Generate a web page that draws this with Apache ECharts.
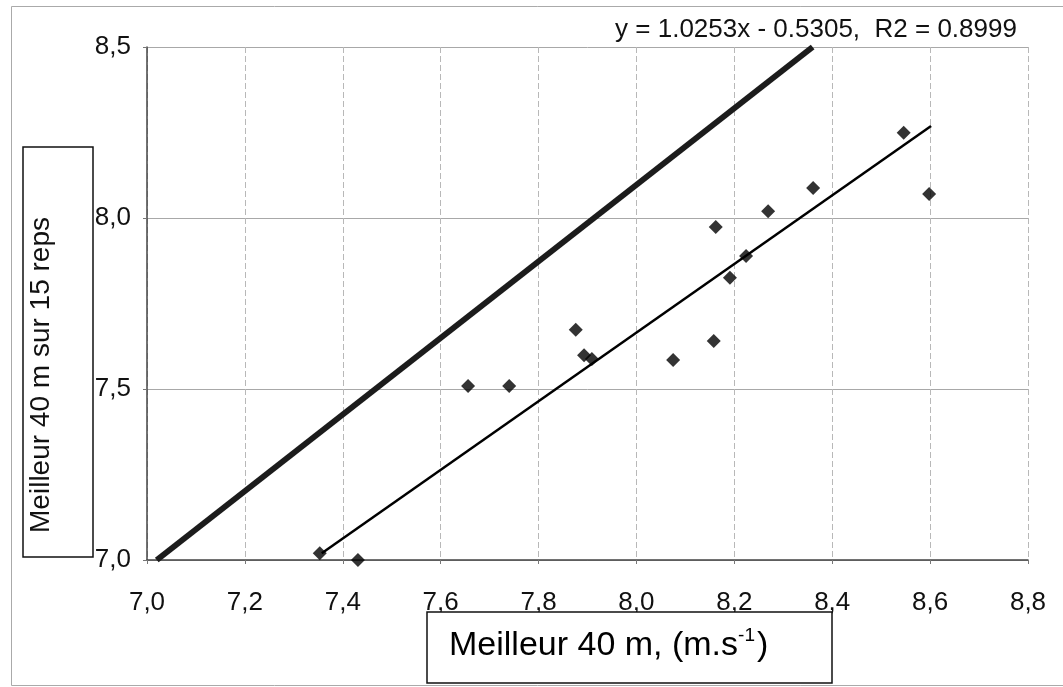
<!DOCTYPE html>
<html>
<head>
<meta charset="utf-8">
<script src="https://cdn.jsdelivr.net/npm/echarts@6/dist/echarts.min.js"></script>
<style>
  html, body { margin: 0; padding: 0; background: #fff; }
  #chart { width: 1063px; height: 687px; }
</style>
</head>
<body>
<div id="chart"></div>
<script>
// données
const best40 = [7.353, 7.431, 7.656, 7.740, 7.876, 7.893, 7.909, 8.075, 8.158, 8.162, 8.191, 8.224, 8.269, 8.361, 8.546, 8.598];
const best15 = [7.020, 7.000, 7.509, 7.509, 7.673, 7.599, 7.588, 7.585, 7.640, 7.974, 7.825, 7.889, 8.020, 8.088, 8.249, 8.070];
// droite épaisse (référence) et droite de régression, extrémités lues
const refLine = [[7.02, 7.0], [8.36, 8.5]];
const fitLine = [[7.357, 7.02], [8.602, 8.269]];
const xTicks = { min: 7.0, max: 8.8, step: 0.2 };
const yTicks = { min: 7.0, max: 8.5, step: 0.5 };
const equation = 'y = 1.0253x - 0.5305,  R2 = 0.8999';

const font = '"Liberation Sans", Arial, sans-serif';
const comma = v => v.toFixed(1).replace('.', ',');

const chart = echarts.init(document.getElementById('chart'), null, { renderer: 'canvas' });

chart.setOption({
    animation: false,
    backgroundColor: '#fff',
    grid: { left: 147, right: 35, top: 47, bottom: 127, containLabel: false },
    xAxis: {
        type: 'value',
        min: xTicks.min, max: xTicks.max, interval: xTicks.step,
        axisLine: { show: true, onZero: false, lineStyle: { color: '#444', width: 1.5 } },
        axisTick: { show: true, length: 4, inside: false, lineStyle: { color: '#777' } },
        axisLabel: { formatter: comma, color: '#111', fontSize: 26, fontFamily: font, margin: 30 },
        splitLine: { show: true, lineStyle: { color: '#b8b8b8', width: 1, type: [6, 3] } }
    },
    yAxis: {
        type: 'value',
        min: yTicks.min, max: yTicks.max, interval: yTicks.step,
        axisLine: { show: true, onZero: false, lineStyle: { color: '#444', width: 1.5 } },
        axisTick: { show: true, length: 4, lineStyle: { color: '#777' } },
        axisLabel: { formatter: comma, color: '#111', fontSize: 26, fontFamily: font, margin: 16 },
        splitLine: { show: true, lineStyle: { color: '#a8a8a8', width: 1 } }
    },
    series: [
        {
            type: 'line',
            data: refLine,
            symbol: 'none',
            lineStyle: { color: '#1c1c1c', width: 6 },
            z: 3
        },
        {
            type: 'line',
            data: fitLine,
            symbol: 'none',
            lineStyle: { color: '#000', width: 2.5 },
            z: 4
        },
        {
            type: 'scatter',
            data: best40.map((x, i) => [x, best15[i]]),
            symbol: 'diamond',
            symbolSize: 14,
            itemStyle: { color: '#000' },
            z: 5
        }
    ],
    graphic: [
        {
            type: 'rect',
            shape: { x: 11.5, y: 6.5, width: 1060, height: 679 },
            style: { fill: 'none', stroke: '#aaa', lineWidth: 1 },
            z: -1
        },
        {
            type: 'rect',
            shape: { x: 23, y: 147, width: 70, height: 410 },
            style: { fill: '#fff', stroke: '#111', lineWidth: 1.5 },
            z: 10
        },
        {
            type: 'text',
            x: 41, y: 375,
            rotation: Math.PI / 2,
            style: {
                text: 'Meilleur 40 m sur 15 reps',
                fill: '#111',
                font: '28px ' + font,
                textAlign: 'center',
                textVerticalAlign: 'middle'
            },
            z: 11
        },
        {
            type: 'rect',
            shape: { x: 427, y: 612, width: 405, height: 71 },
            style: { fill: '#fff', stroke: '#111', lineWidth: 1.5 },
            z: 10
        },
        {
            type: 'text',
            x: 449, y: 646,
            style: {
                text: '{a|Meilleur 40 m, (m.s}{s|-1}{a|)}',
                rich: {
                    a: { fontSize: 34, fontFamily: font, color: '#111', lineHeight: 40 },
                    s: { fontSize: 19, fontFamily: font, color: '#111', lineHeight: 40, verticalAlign: 'top', padding: [0, 2, 22, 0] }
                },
                textAlign: 'left',
                textVerticalAlign: 'middle'
            },
            z: 11
        },
        {
            type: 'text',
            x: 816, y: 30,
            style: {
                text: equation,
                fill: '#111',
                font: '26px ' + font,
                textAlign: 'center',
                textVerticalAlign: 'middle'
            },
            z: 11
        }
    ]
});
</script>
</body>
</html>
